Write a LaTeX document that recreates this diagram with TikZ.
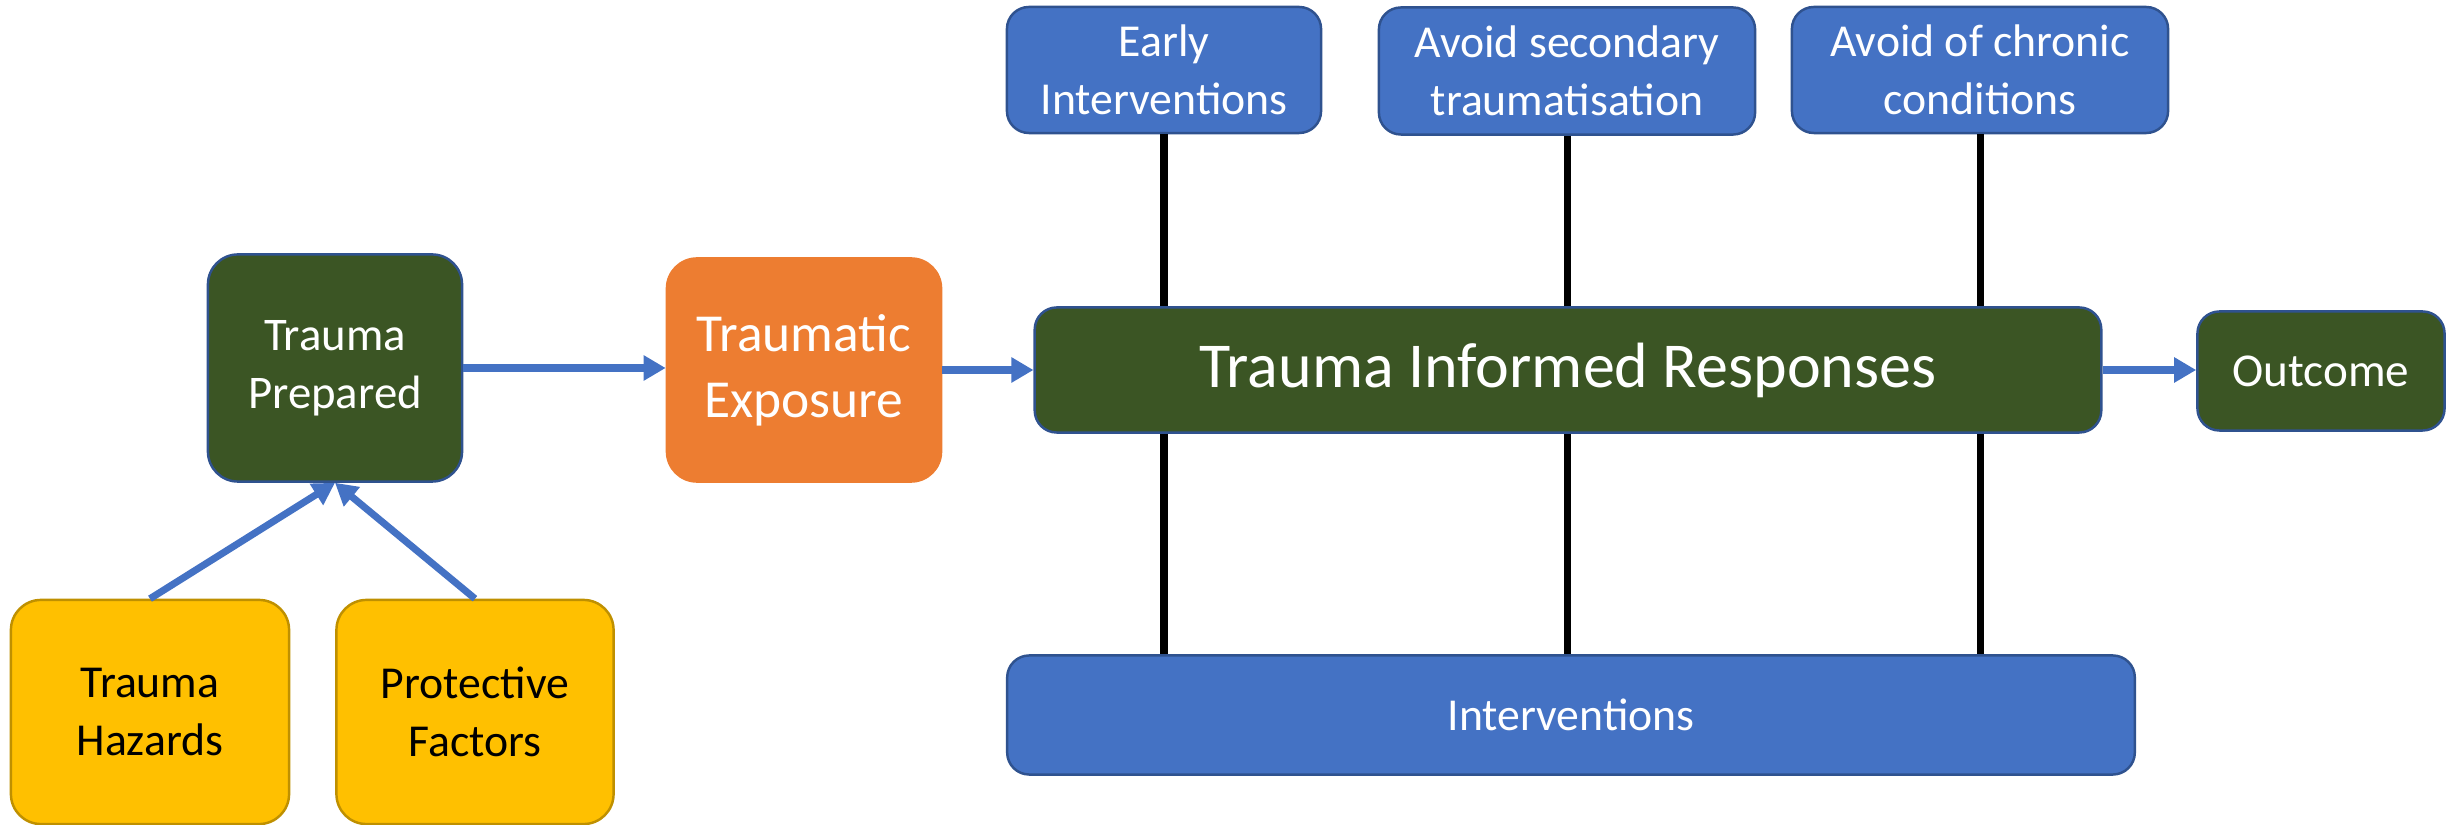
\documentclass[tikz,border=0pt]{standalone}
\usepackage{fontspec}
\setmainfont{Carlito}
\usetikzlibrary{arrows.meta}
\definecolor{darkgreen}{HTML}{3B5524}
\definecolor{boxorange}{HTML}{ED7D31}
\definecolor{boxblue}{HTML}{4472C4}
\definecolor{edgeblue}{HTML}{2F528F}
\definecolor{boxgold}{HTML}{FFC000}
\definecolor{edgegold}{HTML}{BF9000}
\tikzset{
  box/.style={rounded corners=0.22cm, inner sep=0pt, align=center, line width=0.7pt},
  greenbox/.style={box, fill=darkgreen, draw=edgeblue, text=white},
  orangebox/.style={box, fill=boxorange, draw=boxorange, text=white, rounded corners=0.3cm},
  bluebox/.style={box, fill=boxblue, draw=edgeblue, text=white},
  goldbox/.style={box, fill=boxgold, draw=edgegold, text=black, rounded corners=0.3cm},
  flow/.style={draw=boxblue, line width=2pt, -{Triangle[length=0.22cm,width=0.24cm]}},
  link/.style={draw=black, line width=2pt}
}
\begin{document}
\begin{tikzpicture}[x=0.01cm,y=-0.01cm]
   \useasboundingbox (0,0) rectangle (2448,825);

   \node[greenbox, rounded corners=0.3cm, minimum width=2.54cm, minimum height=2.27cm,
     font=\fontsize{13.3}{16.4}\selectfont] (prep) at (335,368) {Trauma\\Prepared};
   \node[orangebox, minimum width=2.74cm, minimum height=2.23cm,
     font=\fontsize{15.2}{18.7}\selectfont] (expo) at (804,370) {Traumatic\\Exposure};
   \node[goldbox, minimum width=2.78cm, minimum height=2.24cm,
     font=\fontsize{13}{16.6}\selectfont] (haz) at (150,712) {Trauma\\Hazards};
   \node[goldbox, minimum width=2.77cm, minimum height=2.24cm,
     font=\fontsize{13}{16.6}\selectfont] (prot) at (475,712) {Protective\\Factors};

   \node[bluebox, minimum width=3.14cm, minimum height=1.26cm,
     font=\fontsize{13}{16.6}\selectfont] (early) at (1164,70) {Early\\Interventions};
   \node[bluebox, minimum width=3.76cm, minimum height=1.27cm,
     font=\fontsize{13}{16.6}\selectfont] (second) at (1567,71) {Avoid secondary\\traumatisation};
   \node[bluebox, minimum width=3.76cm, minimum height=1.26cm,
     font=\fontsize{13}{16.6}\selectfont] (chronic) at (1980,70) {Avoid of chronic\\conditions};

   \node[greenbox, minimum width=10.66cm, minimum height=1.25cm,
     font=\fontsize{18.2}{21}\selectfont] (tir) at (1568,370) {Trauma Informed Responses};
   \node[greenbox, minimum width=2.47cm, minimum height=1.19cm,
     font=\fontsize{13.4}{16}\selectfont] (out) at (2321,371) {Outcome};
   \node[bluebox, minimum width=11.27cm, minimum height=1.19cm,
     font=\fontsize{13}{16.6}\selectfont] (iv) at (1571,715) {Interventions};

   \draw[flow] (haz.north) -- (prep.south);
   \draw[flow] (prot.north) -- (prep.south);
   \draw[flow] (prep.east) -- (prep.east -| expo.west);
   \draw[flow] (expo.east) -- (expo.east -| tir.west);
   \draw[flow] (tir.east) -- (tir.east -| out.west);

   \foreach \top in {early,second,chronic}{
     \draw[link] (\top.south) -- (\top.south |- tir.north);
     \draw[link] (\top.south |- tir.south) -- (\top.south |- iv.north);
   }
\end{tikzpicture}
\end{document}
